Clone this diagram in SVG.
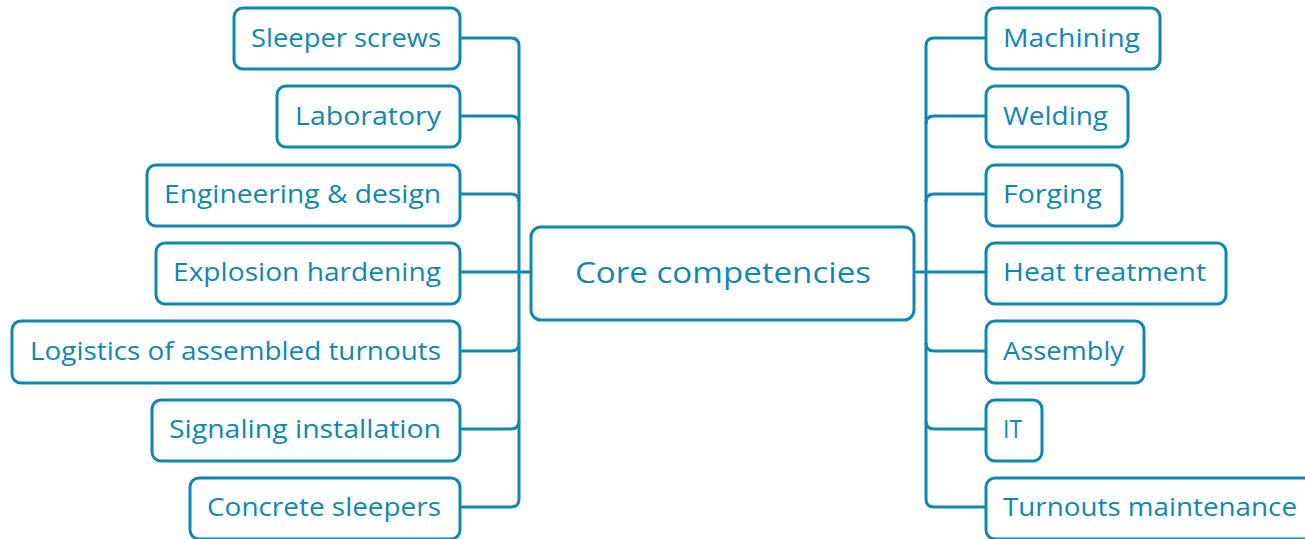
<svg xmlns="http://www.w3.org/2000/svg" width="1305" height="539" viewBox="0 0 1305 539">
<style>
.n rect{fill:#fff;stroke:#0f87b5;stroke-width:3}
.n text{fill:#0f87b5;font-family:"Open Sans","Liberation Sans",Arial,sans-serif;font-size:25px}
.c path{fill:none;stroke:#0f87b5;stroke-width:3}
</style>
<rect width="1305" height="539" fill="#fff"/>
<g class="c" id="connectors">
<path d="M460,38 H511 Q519,38 519,46 V499 Q519,507 511,507 H460"/>
<path d="M460,116 H511 Q519,116 519,124"/>
<path d="M460,194 H511 Q519,194 519,202"/>
<path d="M460,351 H511 Q519,351 519,343"/>
<path d="M460,429 H511 Q519,429 519,421"/>
<path d="M460,272 H531"/>
<path d="M986,38 H934 Q926,38 926,46 V499 Q926,507 934,507 H986"/>
<path d="M986,116 H934 Q926,116 926,124"/>
<path d="M986,194 H934 Q926,194 926,202"/>
<path d="M986,351 H934 Q926,351 926,343"/>
<path d="M986,429 H934 Q926,429 926,421"/>
<path d="M914,272 H986"/>
</g>
<g class="n" id="center"><rect x="531" y="227" width="383" height="93" rx="10"/><text x="575" y="283" style="font-size:30px" textLength="296" lengthAdjust="spacingAndGlyphs">Core competencies</text></g>
<g class="n" id="sleeper-screws"><rect x="234" y="8" width="226" height="61" rx="9"/><text x="251" y="47" textLength="190" lengthAdjust="spacingAndGlyphs">Sleeper screws</text></g>
<g class="n" id="laboratory"><rect x="277" y="86" width="183" height="61" rx="9"/><text x="295" y="125" textLength="146" lengthAdjust="spacingAndGlyphs">Laboratory</text></g>
<g class="n" id="engineering"><rect x="147" y="165" width="313" height="61" rx="9"/><text x="164" y="203" textLength="277" lengthAdjust="spacingAndGlyphs">Engineering &amp; design</text></g>
<g class="n" id="explosion"><rect x="156" y="243" width="304" height="61" rx="9"/><text x="173" y="281" textLength="268" lengthAdjust="spacingAndGlyphs">Explosion hardening</text></g>
<g class="n" id="logistics"><rect x="12" y="321" width="448" height="62" rx="9"/><text x="30" y="360" textLength="411" lengthAdjust="spacingAndGlyphs">Logistics of assembled turnouts</text></g>
<g class="n" id="signaling"><rect x="152" y="400" width="308" height="61" rx="9"/><text x="169" y="438" textLength="272" lengthAdjust="spacingAndGlyphs">Signaling installation</text></g>
<g class="n" id="concrete"><rect x="190" y="478" width="270" height="61" rx="9"/><text x="207" y="516" textLength="234" lengthAdjust="spacingAndGlyphs">Concrete sleepers</text></g>
<g class="n" id="machining"><rect x="986" y="8" width="174" height="61" rx="9"/><text x="1003" y="47" textLength="137" lengthAdjust="spacingAndGlyphs">Machining</text></g>
<g class="n" id="welding"><rect x="986" y="86" width="142" height="61" rx="9"/><text x="1003" y="125" textLength="105" lengthAdjust="spacingAndGlyphs">Welding</text></g>
<g class="n" id="forging"><rect x="986" y="165" width="136" height="61" rx="9"/><text x="1003" y="203" textLength="99" lengthAdjust="spacingAndGlyphs">Forging</text></g>
<g class="n" id="heat"><rect x="986" y="243" width="240" height="61" rx="9"/><text x="1003" y="281" textLength="203" lengthAdjust="spacingAndGlyphs">Heat treatment</text></g>
<g class="n" id="assembly"><rect x="986" y="321" width="158" height="62" rx="9"/><text x="1003" y="360" textLength="121" lengthAdjust="spacingAndGlyphs">Assembly</text></g>
<g class="n" id="it"><rect x="986" y="400" width="56" height="61" rx="9"/><text x="1003" y="438" textLength="19" lengthAdjust="spacingAndGlyphs">IT</text></g>
<g class="n" id="turnouts"><rect x="986" y="478" width="340" height="61" rx="9"/><text x="1003" y="516" textLength="294" lengthAdjust="spacingAndGlyphs">Turnouts maintenance</text></g>
</svg>
